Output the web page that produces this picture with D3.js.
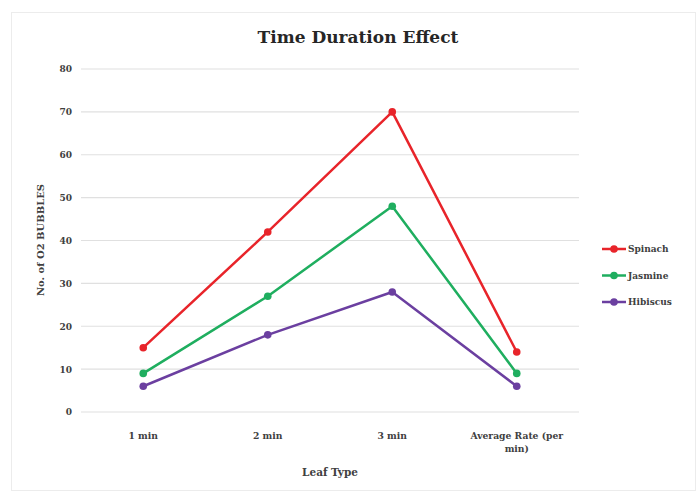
<!DOCTYPE html>
<html><head><meta charset="utf-8">
<script src="https://cdn.jsdelivr.net/npm/d3@7"></script>
<style>body{margin:0;background:#fff}svg{display:block}</style>
</head><body>
<script>
const categories = ["1 min", "2 min", "3 min", "Average Rate (per min)"];
const seriesNames = ["Spinach", "Jasmine", "Hibiscus"];
const spinach = [15, 42, 70, 14];
const jasmine = [9, 27, 48, 9];
const hibiscus = [6, 18, 28, 6];
const yTicks = [0, 10, 20, 30, 40, 50, 60, 70, 80];
const colors = ["#e8242a", "#1fae5f", "#6b3fa0"];
const series = [spinach, jasmine, hibiscus];

const W = 697, H = 494;
const svg = d3.select("body").append("svg").attr("width", W).attr("height", H);
svg.append("rect").attr("x", 11.5).attr("y", 12.5).attr("width", 684).attr("height", 478)
  .attr("fill", "#fff").attr("stroke", "#ececec");

const x = d3.scaleBand().domain(categories).range([81, 579]);
const y = d3.scaleLinear().domain([0, 80]).range([412, 69]);
const font = "'DejaVu Serif', serif";

// gridlines
svg.append("g").selectAll("line").data(yTicks).join("line")
  .attr("x1", 81).attr("x2", 579).attr("y1", d => y(d)).attr("y2", d => y(d))
  .attr("stroke", "#e0e0e0").attr("stroke-width", 1.2);

// y axis
const ya = svg.append("g").attr("transform", "translate(72,0)")
  .call(d3.axisLeft(y).tickValues(yTicks).tickSize(0).tickPadding(0));
ya.select(".domain").remove();
ya.selectAll("text").attr("font-family", font).attr("font-weight", "bold").attr("font-size", 9).attr("fill", "#404040");

// x axis
const xa = svg.append("g").attr("transform", "translate(0,412)")
  .call(d3.axisBottom(x).tickSize(0).tickPadding(20));
xa.select(".domain").remove();
xa.selectAll("text").attr("font-family", font).attr("font-weight", "bold").attr("font-size", 9.2).attr("fill", "#404040")
  .each(function(d){
    if (d.startsWith("Average")) {
      const t = d3.select(this); t.text(null);
      t.append("tspan").attr("x", 0).attr("dy", "0.71em").text("Average Rate (per");
      t.append("tspan").attr("x", 0).attr("dy", "1.5em").text("min)");
      t.attr("dy", null).attr("y", 20);
    }
  });

// lines
const line = d3.line().x((d, i) => x(categories[i]) + x.bandwidth() / 2).y(d => y(d));
series.forEach((s, k) => {
  svg.append("path").datum(s).attr("d", line).attr("fill", "none")
    .attr("stroke", colors[k]).attr("stroke-width", 2.5).attr("stroke-linejoin", "round");
  svg.append("g").selectAll("circle").data(s).join("circle")
    .attr("cx", (d, i) => x(categories[i]) + x.bandwidth() / 2).attr("cy", d => y(d))
    .attr("r", 3.8).attr("fill", colors[k]);
});

// title
svg.append("text").attr("x", 358).attr("y", 43).attr("text-anchor", "middle")
  .attr("font-family", font).attr("font-weight", "bold").attr("font-size", 17).attr("fill", "#262626")
  .text("Time Duration Effect");

// axis titles
svg.append("text").attr("x", 330).attr("y", 476).attr("text-anchor", "middle")
  .attr("font-family", font).attr("font-weight", "bold").attr("font-size", 10.5).attr("fill", "#404040")
  .text("Leaf Type");
svg.append("text").attr("transform", "translate(44,240) rotate(-90)").attr("text-anchor", "middle")
  .attr("font-family", font).attr("font-weight", "bold").attr("font-size", 10).attr("fill", "#404040")
  .text("No. of O2 BUBBLES");

// legend
const leg = svg.append("g");
seriesNames.forEach((n, k) => {
  const ly = 249 + k * 26.5;
  leg.append("line").attr("x1", 602).attr("x2", 626).attr("y1", ly).attr("y2", ly)
    .attr("stroke", colors[k]).attr("stroke-width", 2.5);
  leg.append("circle").attr("cx", 614).attr("cy", ly).attr("r", 3.8).attr("fill", colors[k]);
  leg.append("text").attr("x", 628).attr("y", ly).attr("dy", "0.35em")
    .attr("font-family", font).attr("font-weight", "bold").attr("font-size", 9).attr("fill", "#404040")
    .text(n);
});
</script>
</body></html>
